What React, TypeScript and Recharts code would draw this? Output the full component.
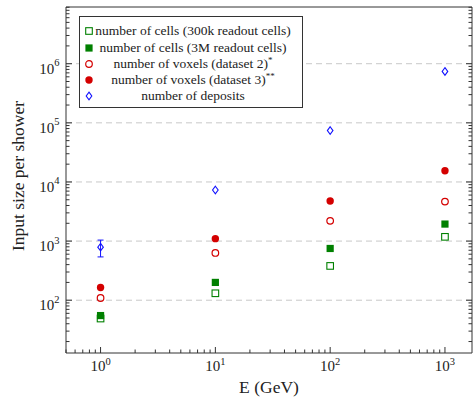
import {
	CartesianGrid,
	ErrorBar,
	Label,
	Legend,
	Scatter,
	ScatterChart,
	XAxis,
	YAxis,
} from "recharts";

const energies = [1, 10, 100, 1000];
const cells300k = [49, 131, 380, 1180];
const cells3M = [55, 200, 750, 1940];
const voxelsDs2 = [109, 630, 2200, 4650];
const voxelsDs3 = [164, 1100, 4750, 15500];
const deposits = [790, 7300, 74000, 740000];
const depositsErr = [250, 0, 0, 0];

const xMajor = [1, 10, 100, 1000];
const yMajor = [100, 1000, 10000, 100000, 1000000];
const X_DOMAIN: [number, number] = [0.5, 1720];
const Y_DOMAIN: [number, number] = [12.8, 9.1e6];

const FONT = '"Liberation Serif", "DejaVu Serif", serif';
const AXIS = "#333";
const GREEN = "#008000";
const RED = "#d40000";
const BLUE = "#1010ff";

type MarkerKind = "sqOpen" | "sqFill" | "circOpen" | "circFill" | "diamond";

const series: {
	name: string;
	sup?: string;
	values: number[];
	color: string;
	marker: MarkerKind;
}[] = [
	{ name: "number of cells (300k readout cells)", values: cells300k, color: GREEN, marker: "sqOpen" },
	{ name: "number of cells (3M readout cells)", values: cells3M, color: GREEN, marker: "sqFill" },
	{ name: "number of voxels (dataset 2)", sup: "*", values: voxelsDs2, color: RED, marker: "circOpen" },
	{ name: "number of voxels (dataset 3)", sup: "**", values: voxelsDs3, color: RED, marker: "circFill" },
	{ name: "number of deposits", values: deposits, color: BLUE, marker: "diamond" },
];

// minor ticks: 2..9 inside every decade that overlaps the domain
function logTicks(lo: number, hi: number) {
	const out: number[] = [];
	for (let e = Math.floor(Math.log10(lo)); e <= Math.ceil(Math.log10(hi)); e++) {
		for (let m = 1; m <= 9; m++) {
			const v = m * Math.pow(10, e);
			if (v >= lo && v <= hi) out.push(v);
		}
	}
	return out;
}
const xTicks = logTicks(X_DOMAIN[0], X_DOMAIN[1]);
const yTicks = logTicks(Y_DOMAIN[0], Y_DOMAIN[1]);

const isMajor = (v: number) =>
	Math.abs(Math.log10(v) - Math.round(Math.log10(v))) < 1e-9;

function drawMarker(kind: MarkerKind, color: string, cx: number, cy: number) {
	switch (kind) {
		case "sqOpen":
			return <rect x={cx - 3.3} y={cy - 3.3} width={6.6} height={6.6} fill="none" stroke={color} strokeWidth={1.1} />;
		case "sqFill":
			return <rect x={cx - 3.6} y={cy - 3.6} width={7.2} height={7.2} fill={color} />;
		case "circOpen":
			return <circle cx={cx} cy={cy} r={3.3} fill="none" stroke={color} strokeWidth={1.2} />;
		case "circFill":
			return <circle cx={cx} cy={cy} r={3.7} fill={color} />;
		default:
			return (
				<polygon
					points={`${cx},${cy - 3.8} ${cx + 2.8},${cy} ${cx},${cy + 3.8} ${cx - 2.8},${cy}`}
					fill="none"
					stroke={color}
					strokeWidth={1.1}
				/>
			);
	}
}

function tickLabel(v: number, x: number, y: number, anchor: "middle" | "end", supDy: number) {
	return (
		<text x={x} y={y} textAnchor={anchor} fontFamily={FONT} fontSize={15} fill="#222">
			<tspan>10</tspan>
			<tspan dy={supDy} fontSize={10.5}>
				{Math.round(Math.log10(v))}
			</tspan>
		</text>
	);
}

function BottomTick(p: any) {
	const v = p.payload.value;
	const major = isMajor(v);
	return (
		<g>
			<line x1={p.x} y1={p.y} x2={p.x} y2={p.y - (major ? 6 : 3.5)} stroke={AXIS} />
			{major && xMajor.includes(v) && tickLabel(v, p.x, p.y + 18, "middle", -6)}
		</g>
	);
}

function TopTick(p: any) {
	const major = isMajor(p.payload.value);
	return <line x1={p.x} y1={p.y} x2={p.x} y2={p.y + (major ? 6 : 3.5)} stroke={AXIS} />;
}

function LeftTick(p: any) {
	const v = p.payload.value;
	const major = isMajor(v);
	return (
		<g>
			<line x1={p.x} y1={p.y} x2={p.x + (major ? 6 : 3.5)} y2={p.y} stroke={AXIS} />
			{major && yMajor.includes(v) && tickLabel(v, p.x - 6.5, p.y + 10, "end", -7.5)}
		</g>
	);
}

function RightTick(p: any) {
	const major = isMajor(p.payload.value);
	return <line x1={p.x} y1={p.y} x2={p.x - (major ? 6 : 3.5)} y2={p.y} stroke={AXIS} />;
}

function LegendBox() {
	return (
		<div
			style={{
				width: 224,
				height: 92,
				boxSizing: "border-box",
				border: "1px solid #333",
				background: "#fff",
				paddingTop: 6.4,
				fontFamily: FONT,
				fontSize: 13.5,
				color: "#222",
			}}
		>
			{series.map((s) => (
				<div key={s.name} style={{ position: "relative", height: 16.25, lineHeight: "16.25px" }}>
					<svg width={14} height={16} style={{ position: "absolute", left: 2, top: 0 }}>
						{drawMarker(s.marker, s.color, 7, 8)}
					</svg>
					<div style={{ marginLeft: 13, width: 200, textAlign: "center", whiteSpace: "nowrap" }}>
						{s.name}
						{s.sup && <sup style={{ fontSize: 9, verticalAlign: 5, lineHeight: 0 }}>{s.sup}</sup>}
					</div>
				</div>
			))}
		</div>
	);
}

export default function App() {
	return (
		<div style={{ position: "absolute", left: 0, top: 0, width: 473, height: 402, background: "#fff" }}>
			<ScatterChart width={473} height={402} margin={{ top: 6, right: 0, bottom: 0, left: 0 }}>
				<CartesianGrid
					xAxisId="b"
					yAxisId="l"
					vertical={false}
					horizontalValues={yMajor}
					stroke="#c8c8c8"
					strokeDasharray="6 4"
				/>
				<XAxis
					xAxisId="b"
					dataKey="x"
					type="number"
					scale="log"
					domain={X_DOMAIN}
					allowDataOverflow
					ticks={xTicks}
					interval={0}
					tickSize={0}
					tickMargin={0}
					tickLine={false}
					height={49}
					stroke={AXIS}
					tick={BottomTick}
				>
					<Label
						content={(lp: any) => {
							const vb = lp.viewBox;
							return (
								<text x={vb.x + vb.width / 2} y={393} textAnchor="middle" fontFamily={FONT} fontSize={17.5} fill="#222">
									E (GeV)
								</text>
							);
						}}
					/>
				</XAxis>
				<XAxis
					xAxisId="t"
					orientation="top"
					type="number"
					scale="log"
					domain={X_DOMAIN}
					allowDataOverflow
					ticks={xTicks}
					interval={0}
					tickSize={0}
					tickMargin={0}
					tickLine={false}
					height={1}
					stroke={AXIS}
					tick={TopTick}
				/>
				<YAxis
					yAxisId="l"
					dataKey="y"
					type="number"
					scale="log"
					domain={Y_DOMAIN}
					allowDataOverflow
					ticks={yTicks}
					interval={0}
					tickSize={0}
					tickMargin={0}
					tickLine={false}
					width={66}
					stroke={AXIS}
					tick={LeftTick}
				>
					<Label
						content={(lp: any) => {
							const vb = lp.viewBox;
							const cx = 18;
							const cy = vb.y + vb.height / 2 - 4;
							return (
								<text
									x={cx}
									y={cy}
									transform={`rotate(-90, ${cx}, ${cy})`}
									textAnchor="middle"
									dominantBaseline="central"
									fontFamily={FONT}
									fontSize={17.5}
									fill="#222"
								>
									Input size per shower
								</text>
							);
						}}
					/>
				</YAxis>
				<YAxis
					yAxisId="r"
					orientation="right"
					type="number"
					scale="log"
					domain={Y_DOMAIN}
					allowDataOverflow
					ticks={yTicks}
					interval={0}
					tickSize={0}
					tickMargin={0}
					tickLine={false}
					width={1}
					stroke={AXIS}
					tick={RightTick}
				/>
				{series.map((s) => (
					<Scatter
						key={s.name}
						name={s.name}
						xAxisId="b"
						yAxisId="l"
						isAnimationActive={false}
						data={energies.map((e, i) => ({
							x: e,
							y: s.values[i],
							err: s.marker === "diamond" ? depositsErr[i] : 0,
						}))}
						shape={(p: any) => drawMarker(s.marker, s.color, p.cx, p.cy)}
					>
						{s.marker === "diamond" && (
							<ErrorBar dataKey="err" direction="y" width={3} stroke={BLUE} strokeWidth={1} />
						)}
					</Scatter>
				))}
				<Legend
					layout="vertical"
					align="center"
					verticalAlign="middle"
					wrapperStyle={{ left: 79, top: 16, width: 224 }}
					content={() => <LegendBox />}
				/>
			</ScatterChart>
		</div>
	);
}
